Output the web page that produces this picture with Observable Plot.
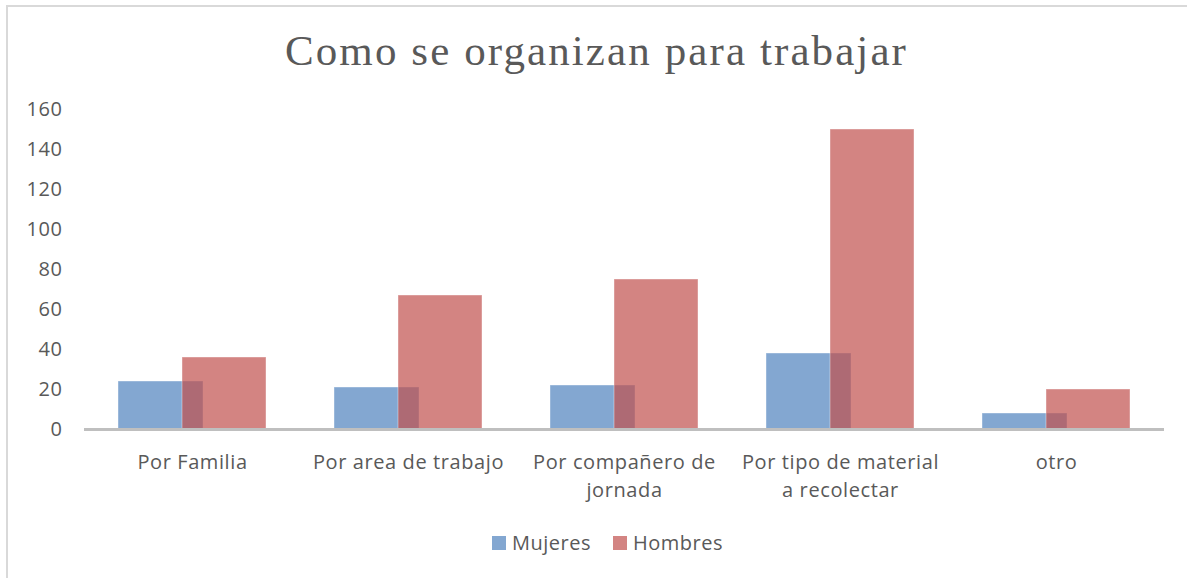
<!DOCTYPE html>
<html>
<head>
<meta charset="utf-8">
<script src="https://cdn.jsdelivr.net/npm/d3@7"></script>
<script src="https://cdn.jsdelivr.net/npm/@observablehq/plot@0.6"></script>
<style>
  html, body { margin: 0; padding: 0; background: #fff; }
  #wrap { position: relative; width: 1187px; height: 578px; overflow: hidden; font-family: "Open Sans", sans-serif; color: #595959; }
  #frame { position: absolute; left: 6px; top: 5px; width: 1190px; height: 600px; border: 2px solid #d9d9d9; box-sizing: border-box; }
  #title { position: absolute; left: 0; width: 1187px; top: 26px; text-align: center; font-family: "Liberation Serif", serif; font-size: 43px; letter-spacing: 2.1px; color: #595959; padding-left: 6px; box-sizing: border-box; }
  #chart { position: absolute; left: 0; top: 0; }
  #legend { position: absolute; top: 529px; left: 14px; width: 1187px; display: flex; justify-content: center; gap: 22px; font-size: 20px; letter-spacing: 0.5px; font-family: "Open Sans", sans-serif; color: #595959; }
  .item { display: flex; align-items: center; gap: 6px; }
  .sw { width: 14px; height: 14px; display: inline-block; }
</style>
</head>
<body>
<div id="wrap">
  <div id="frame"></div>
  <div id="chart"></div>
  <div id="title">Como se organizan para trabajar</div>
  <div id="legend"></div>
</div>
<script>
const categories = ["Por Familia", "Por area de trabajo", "Por compañero de jornada", "Por tipo de material a recolectar", "otro"];
const categoryLabels = ["Por Familia", "Por area de trabajo", "Por compañero de\njornada", "Por tipo de material\na recolectar", "otro"];
const mujeres = [24, 21, 22, 38, 8];
const hombres = [36, 67, 75, 150, 20];
const yTicks = [0, 20, 40, 60, 80, 100, 120, 140, 160];
const seriesNames = ["Mujeres", "Hombres"];
const seriesColors = ["#4F81BD", "#C0504D"];

const dataM = categories.map((c, i) => ({category: c, value: mujeres[i]}));
const dataH = categories.map((c, i) => ({category: c, value: hombres[i]}));
const labelOf = Object.fromEntries(categories.map((c, i) => [c, categoryLabels[i]]));

const plot = Plot.plot({
  width: 1187,
  height: 510,
  marginTop: 109,
  marginBottom: 81,
  marginLeft: 84,
  marginRight: 23,
  style: {fontFamily: "Open Sans, sans-serif", fontSize: "20px", letterSpacing: "0.6px", color: "#595959", background: "transparent", overflow: "visible"},
  x: {domain: categories, padding: 0, label: null, tickSize: 0, tickPadding: 25, tickFormat: d => labelOf[d]},
  y: {domain: [0, 160], ticks: yTicks, label: null, tickSize: 0, tickPadding: 22},
  marks: [
    Plot.gridY(yTicks.filter(d => d > 0), {stroke: "#d9d9d9", strokeOpacity: 0.6, strokeWidth: 1.5, x1: 85, x2: 1163}),
    Plot.barY(dataM, {x: "category", y: "value", fill: seriesColors[0], fillOpacity: 0.7, insetLeft: 34, insetRight: 97, stroke: "#fff", strokeOpacity: 0.4, strokeWidth: 1}),
    Plot.barY(dataH, {x: "category", y: "value", fill: seriesColors[1], fillOpacity: 0.7, insetLeft: 98, insetRight: 34, stroke: "#fff", strokeOpacity: 0.4, strokeWidth: 1}),
    Plot.ruleY([0], {stroke: "#bfbfbf", strokeWidth: 3})
  ]
});
plot.querySelectorAll('[aria-label="x-axis tick label"] text').forEach(t => {
  t.querySelectorAll("tspan").forEach((s, i) => { if (i > 0) s.setAttribute("dy", "1.4em"); });
});
document.getElementById("chart").appendChild(plot);

const legend = document.getElementById("legend");
seriesNames.forEach((n, i) => {
  const it = document.createElement("div");
  it.className = "item";
  it.innerHTML = `<span class="sw" style="background:${seriesColors[i]};opacity:0.7"></span><span>${n}</span>`;
  legend.appendChild(it);
});
</script>
</body>
</html>
